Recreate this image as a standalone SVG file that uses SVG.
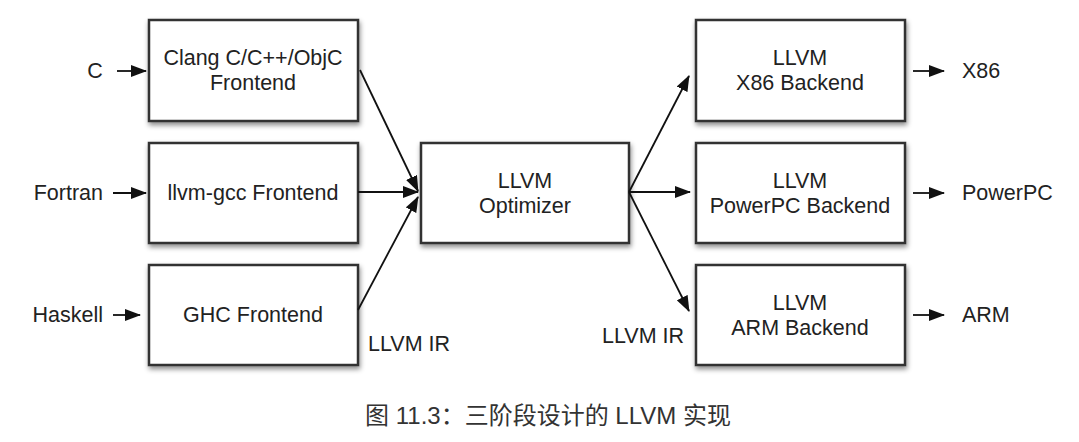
<svg xmlns="http://www.w3.org/2000/svg" width="1079" height="442" viewBox="0 0 1079 442">
<defs>
<filter id="sh" x="-10%" y="-10%" width="125%" height="130%">
<feDropShadow dx="1" dy="3" stdDeviation="2.5" flood-color="#000" flood-opacity="0.45"/>
</filter>
<marker id="ah" markerWidth="16" markerHeight="12" refX="15" refY="6" orient="auto" markerUnits="userSpaceOnUse">
<path d="M0,0 L16,6 L0,12 Z" fill="#111"/>
</marker>
</defs>
<style>
.box{fill:#fff;stroke:#333;stroke-width:2.5;filter:url(#sh)}
.t{font-family:"Liberation Sans",Arial,sans-serif;font-size:21.5px;fill:#222;text-anchor:middle}
.l{font-family:"Liberation Sans",Arial,sans-serif;font-size:21.5px;fill:#222}
.c{stroke:#111;stroke-width:1.8;fill:none;marker-end:url(#ah)}
.cap{font-family:"Liberation Sans","Noto Sans CJK SC",sans-serif;font-size:24px;fill:#333;text-anchor:middle}
</style>
<rect width="1079" height="442" fill="#fff"/>
<g id="clang"><rect class="box" x="149" y="20" width="209" height="101"/><text class="t" x="253" y="65">Clang C/C++/ObjC</text><text class="t" x="253" y="90">Frontend</text></g>
<g id="llvmgcc"><rect class="box" x="149" y="143" width="209" height="100"/><text class="t" x="253" y="200">llvm-gcc Frontend</text></g>
<g id="ghc"><rect class="box" x="149" y="265" width="209" height="100"/><text class="t" x="253" y="322">GHC Frontend</text></g>
<g id="opt"><rect class="box" x="421" y="143" width="208" height="100"/><text class="t" x="525" y="188">LLVM</text><text class="t" x="525" y="213">Optimizer</text></g>
<g id="x86"><rect class="box" x="696" y="20" width="209" height="101"/><text class="t" x="800" y="65">LLVM</text><text class="t" x="800" y="90">X86 Backend</text></g>
<g id="ppc"><rect class="box" x="696" y="143" width="209" height="100"/><text class="t" x="800" y="188">LLVM</text><text class="t" x="800" y="213">PowerPC Backend</text></g>
<g id="arm"><rect class="box" x="696" y="265" width="209" height="100"/><text class="t" x="800" y="310">LLVM</text><text class="t" x="800" y="335">ARM Backend</text></g>
<g id="labels">
<text class="t" x="95" y="78">C</text>
<text class="l" x="103" y="200" text-anchor="end">Fortran</text>
<text class="l" x="103" y="322" text-anchor="end">Haskell</text>
<text class="l" x="962" y="78">X86</text>
<text class="l" x="962" y="200">PowerPC</text>
<text class="l" x="962" y="322">ARM</text>
<text class="l" x="368" y="351">LLVM IR</text>
<text class="l" x="602" y="343">LLVM IR</text>
</g>
<g id="connectors">
<line class="c" x1="117" y1="71" x2="146" y2="71"/>
<line class="c" x1="113" y1="193" x2="146" y2="193"/>
<line class="c" x1="113" y1="315" x2="140" y2="315"/>
<line class="c" x1="360" y1="70" x2="418" y2="191"/>
<line class="c" x1="358" y1="192" x2="418" y2="192"/>
<line class="c" x1="358" y1="310" x2="418" y2="197"/>
<line class="c" x1="629" y1="192" x2="689" y2="76"/>
<line class="c" x1="629" y1="192" x2="690" y2="192"/>
<line class="c" x1="629" y1="192" x2="689" y2="311"/>
<line class="c" x1="913" y1="71" x2="944" y2="71"/>
<line class="c" x1="913" y1="193" x2="944" y2="193"/>
<line class="c" x1="913" y1="315" x2="944" y2="315"/>
</g>
<text class="cap" x="548" y="424">图 11.3：三阶段设计的 LLVM 实现</text>
</svg>
